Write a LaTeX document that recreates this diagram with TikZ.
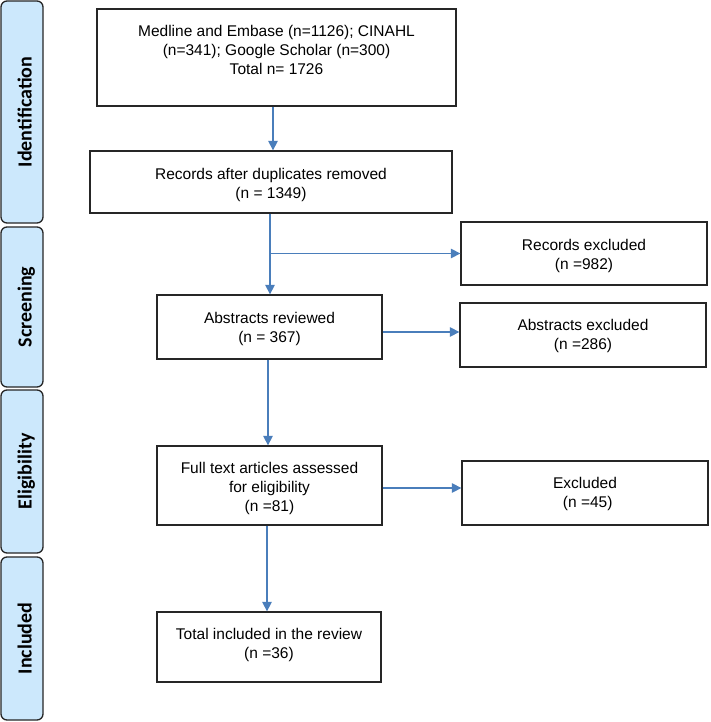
\documentclass[tikz,border=0pt]{standalone}
\usepackage{fontspec}
\setmainfont{Liberation Sans}
\newfontfamily\barfont{Carlito}
\usetikzlibrary{arrows.meta,calc}
\definecolor{barblue}{RGB}{204,232,252}
\definecolor{arrblue}{RGB}{74,126,187}
\definecolor{edge}{RGB}{38,38,38}
\begin{document}
\begin{tikzpicture}[x=1pt,y=-1pt,
  box/.style={draw=edge, line width=1.3pt, inner sep=0pt, fill=white},
  txt/.style={align=center, font=\fontsize{15.5}{19}\selectfont, inner sep=0pt},
  bar/.style={draw=edge, line width=1.3pt, fill=barblue, rounded corners=6pt, inner sep=0pt, minimum height=42pt, rotate=90},
  bartxt/.style={rotate=90, font=\barfont\bfseries\fontsize{20}{24}\selectfont, inner sep=0pt, text height=15pt, text depth=5pt},
  arr/.style={draw=arrblue, line width=1.3pt, -{Triangle[length=9.5pt,width=9.5pt]}}]
\useasboundingbox (0,0) rectangle (710,722);
\fill[white] (0,0) rectangle (710,722);

% stage bars
\node[bar, minimum width=222pt] (bid) at (22,112) {};
\node[bar, minimum width=160pt] (bsc) at (22,307) {};
\node[bar, minimum width=163pt] (bel) at (22,471.5) {};
\node[bar, minimum width=163pt] (bin) at (22,638.5) {};
\node[bartxt] (lid) at (26.5,112) {Identification};
\node[bartxt] (lsc) at (26.5,307) {Screening};
\node[bartxt] (lel) at (26.5,471.5) {Eligibility};
\node[bartxt] (lin) at (26.5,638.5) {Included};

% boxes
\node[box, minimum width=359pt, minimum height=97pt] (b1) at (276.5,57.5) {};
\node[box, minimum width=362pt, minimum height=62pt] (b2) at (271,182) {};
\node[box, minimum width=246pt, minimum height=63pt] (recex) at (584,253.5) {};
\node[box, minimum width=225pt, minimum height=64pt] (b3) at (269.5,327) {};
\node[box, minimum width=246pt, minimum height=64pt] (absex) at (583,335) {};
\node[box, minimum width=225pt, minimum height=79pt] (full) at (269.5,485.5) {};
\node[box, minimum width=246pt, minimum height=64pt] (excl) at (585,493) {};
\node[box, minimum width=224pt, minimum height=70pt] (total) at (269,647) {};

% texts
\node[txt] (t1) at (276.5,50) {Medline and Embase (n=1126); CINAHL\\(n=341); Google Scholar (n=300)\\Total n= 1726};
\node[txt] (t2) at (271,184.5) {Records after duplicates removed\\(n = 1349)};
\node[txt] (t3) at (584,255.5) {Records excluded\\(n =982)};
\node[txt] (t4) at (269.5,329) {Abstracts reviewed\\(n = 367)};
\node[txt] (t5) at (583,335.5) {Abstracts excluded\\(n =286)};
\node[txt] (t6) at (269.5,488) {Full text articles assessed\\for eligibility\\(n =81)};
\node[txt] (t7) at (585,494) {Excluded\\\hspace*{0.35em}(n =45)};
\node[txt] (t8) at (269,644.5) {Total included in the review\\(n =36)};

% connectors
\coordinate (a1) at ([xshift=-3.5pt]b1.south);
\draw[arr] (a1) -- (a1 |- b2.north);
\coordinate (a2) at ([xshift=-1pt]b2.south);
\draw[arr] (a2) -- (a2 |- b3.north);
\draw[arr] (a2 |- recex.west) -- (recex.west);
\coordinate (a3) at ([yshift=-5pt]b3.east);
\draw[arr] (a3) -- (a3 -| absex.west);
\coordinate (a4) at ([xshift=-1.5pt]b3.south);
\draw[arr] (a4) -- (a4 |- full.north);
\coordinate (a5) at ([yshift=-2.5pt]full.east);
\draw[arr] (a5) -- (a5 -| excl.west);
\coordinate (a6) at ([xshift=-2.5pt]full.south);
\draw[arr] (a6) -- (a6 |- total.north);
\end{tikzpicture}
\end{document}
